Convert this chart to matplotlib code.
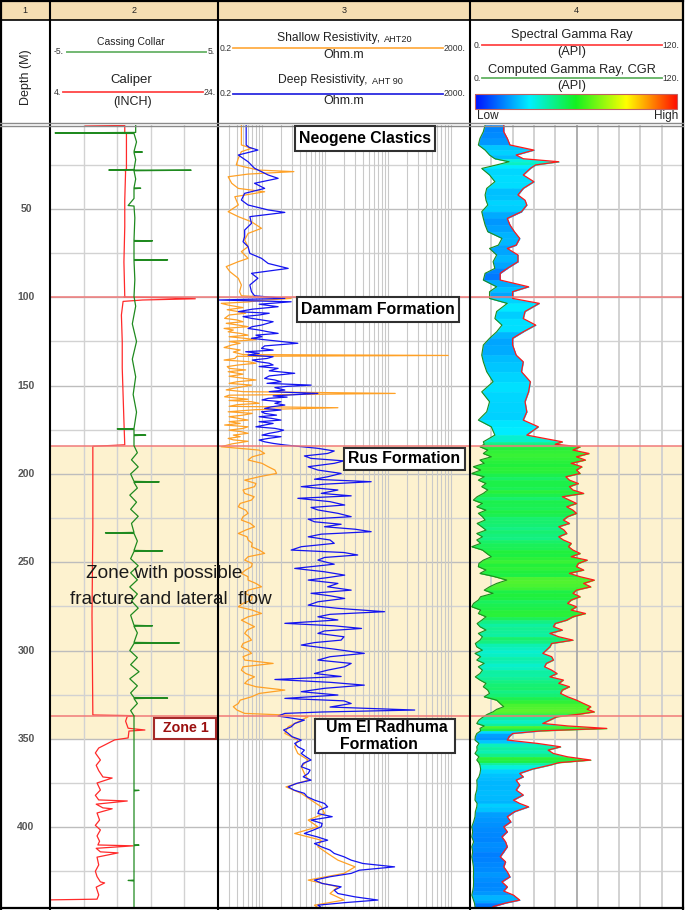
import numpy as np
import matplotlib
matplotlib.use("Agg")
import matplotlib.pyplot as plt
from matplotlib.colors import LinearSegmentedColormap
from matplotlib.patches import Rectangle

plt.rcParams['font.family'] = ['Liberation Sans', 'DejaVu Sans']

# ---------------- data (depth in m) ----------------
depth_labels = [50, 100, 150, 200, 250, 300, 350, 400]
track_numbers = ['1', '2', '3', '4']
formation_tops = [100.0, 184.0, 337.0]
zone_top, zone_base = 184.0, 350.6

# Caliper (inch)
caliper_pts = [
    (2.4, 8.2), (2.7, 12.9), (6.9, 12.9), (7.2, 13.1), (27.5, 13.1), (27.9, 12.5), (28.3, 13.0),
    (45, 12.9), (60, 12.9), (80, 12.8), (99.5, 12.9), (99.8, 12.8), (100.3, 18.6), (100.8, 21.3),
    (101.5, 15.0), (102.3, 12.7), (110, 12.5), (125, 12.6), (140, 12.6), (155, 12.7), (170, 12.8),
    (183.5, 12.9), (183.9, 11.2), (184.3, 9.1), (230, 9.1), (280, 9.0), (336.5, 9.1),
    (336.9, 14.1), (337.3, 13.2), (340, 13.0), (344, 13.3), (345, 15.3), (345.6, 13.4), (349.5, 13.3),
    (350.6, 11.7), (355.2, 9.8), (358, 9.4), (362, 10.0), (365, 9.5), (368, 9.8), (371.6, 10.3),
    (372.2, 11.4), (375, 9.6), (379, 10.0), (382, 9.4), (384.6, 9.8), (385.2, 13.2), (387, 9.5),
    (389.1, 10.3), (389.6, 11.4), (392, 9.6), (396, 9.9), (399, 9.4), (401.6, 10.0), (405, 9.6),
    (408, 9.9), (410.1, 9.7), (410.6, 13.9), (412, 9.5), (414, 10.0), (414.6, 12.1), (417, 9.6),
    (421.4, 9.8), (425, 9.4), (428, 9.6), (431, 10.0), (431.6, 10.5), (434, 9.5), (438.4, 9.8),
    (440.8, 9.6), (441.2, 4.0),
]

# Casing collar locator
collar_pts = [
    (2.4, 0.1), (6.6, 0.1), (6.9, -4.7), (7.2, 0.0), (12, 0.15), (17.4, 0.0), (17.7, 0.5), (18, 0.0),
    (22, 0.1), (27.6, 0.0), (27.9, -1.5), (28.0, 3.4), (28.3, 0.0), (33, 0.1), (38, 0.0), (38.2, 0.4),
    (38.5, 0.0), (44, 0.0), (48, -0.35), (48.3, 0.0), (55, 0.05), (67.8, 0.0), (68, 1.1), (68.3, 0.0),
    (78.6, 0.0), (78.8, 2.0), (79.1, 0.0), (90, 0.05), (99.5, 0.0), (105, 0.1), (115, -0.1), (125, 0.15),
    (135, -0.1), (145, 0.1), (155, -0.05), (165, 0.15), (174.3, 0.0), (174.5, -1.0), (174.8, 0.0),
    (177.8, 0.0), (178, 0.7), (178.3, 0.0), (184, 0.0), (188, 0.2), (192, -0.15), (196, 0.25), (200, -0.2),
    (204.2, 0.0), (204.5, 1.5), (204.8, 0.0), (208, 0.2), (212, -0.25), (216, 0.15), (220, -0.2), (224, 0.25),
    (228, -0.15), (233.1, 0.0), (233.4, -1.7), (233.7, 0.0), (238, 0.2), (243.3, 0.0), (243.6, 1.7),
    (243.9, 0.0), (248, -0.2), (252, 0.25), (256, -0.2), (260, 0.2), (264, -0.25), (268, 0.2), (272, -0.15),
    (276, 0.25), (280, -0.2), (285.7, 0.0), (286, 1.1), (286.3, 0.0), (290, 0.2), (295.4, 0.0), (295.7, 2.7),
    (296, 0.0), (300, -0.25), (304, 0.2), (308, -0.2), (312, 0.3), (316, -0.25), (320, 0.2), (324, -0.2),
    (326.6, 0.0), (326.9, 2.0), (327.2, 0.0), (330, 0.2), (334, -0.2), (337, 0.0), (360, 0.0), (379, 0.0),
    (379.2, 0.3), (379.5, 0.0), (410, 0.0), (410.2, 0.3), (410.5, 0.0), (430, 0.0), (430.2, -0.35),
    (430.5, 0.0), (445, 0.0),
]

# Shallow resistivity AHT20 (ohm.m)
shallow_pts = [
    (2.4, 0.47), (13.7, 0.47), (15.6, 0.68), (17.5, 0.47), (21.3, 0.42), (25, 0.39), (27.9, 0.86),
    (28.8, 3.2), (30.2, 0.6), (31.7, 0.29), (35.4, 0.33), (38.3, 0.42), (40.2, 1.1), (43, 0.37),
    (47.7, 0.42), (51.5, 0.29), (54.3, 0.42), (57.2, 0.68), (60.9, 0.98), (63.8, 0.6), (67.5, 0.53),
    (71.3, 0.6), (74.1, 0.47), (77.9, 0.6), (79.8, 0.42), (82.6, 0.27), (85.5, 0.31), (89.2, 0.42),
    (93, 0.47), (96.8, 0.44), (99.1, 0.47), (100.6, 2.9), (101.8, 0.9), (103.4, 0.225), (105.8, 0.5),
    (108.1, 0.42), (110, 0.3), (111.9, 0.255), (113.8, 0.5), (115.7, 0.42), (117.6, 0.25), (119.5, 0.29),
    (121.4, 0.6), (123.2, 0.53), (125, 0.3), (127, 0.33), (129.8, 0.45), (132.4, 0.5), (132.9, 900),
    (133.4, 0.4), (134.6, 0.37), (136.4, 0.6), (138.3, 0.42), (140.2, 0.3), (142.1, 0.29), (143.5, 0.5),
    (145.9, 0.53), (147.8, 0.4), (149.7, 0.68), (151.5, 0.35), (153.4, 0.5), (154.4, 130), (155.4, 0.3),
    (156.3, 0.255), (157.7, 0.6), (159.1, 0.68), (160.8, 0.4), (162.5, 16), (163.6, 0.8), (164.8, 0.29),
    (166.7, 0.5), (168.5, 0.42), (170.4, 0.3), (172.3, 0.255), (174.2, 0.5), (176.1, 0.47), (178, 0.35),
    (179.9, 0.29), (181.5, 0.6), (183.0, 0.33), (184.6, 0.225),
    (102.6, 0.6), (104.5, 0.3), (107, 0.28), (109, 0.55), (112.8, 0.4), (114.7, 0.27), (116.6, 0.6),
    (118.5, 0.35), (120.4, 0.45), (122.3, 0.3), (124, 0.8), (126, 0.45), (128.4, 0.25), (131, 0.35),
    (135.5, 0.25), (137.3, 0.8), (139.2, 0.28), (141.1, 0.55), (144.7, 0.3), (146.8, 0.8), (148.7, 0.3),
    (150.6, 0.5), (152.4, 0.27), (158.4, 0.3), (160, 0.9), (161.7, 0.3), (165.7, 0.7), (167.6, 0.3),
    (169.5, 0.6), (171.4, 0.45), (173.3, 0.6), (175.2, 0.3), (177, 0.6), (178.9, 0.45), (180.7, 0.35),
    (182.2, 0.45),
    (186.5, 0.9), (188.4, 1.1), (190.3, 0.7), (192.1, 0.6), (194.0, 1.0), (195.9, 1.25), (197.8, 1.6),
    (199.7, 1.7), (201.6, 0.9), (203.5, 0.53), (205.4, 0.8), (207.2, 0.76), (209.1, 0.5), (211, 0.53),
    (212.9, 0.75), (214.8, 0.68), (216.7, 0.45), (218.6, 0.42), (220.5, 0.55), (222.3, 0.6), (224.2, 0.5),
    (226.1, 0.47), (228, 0.65), (229.9, 0.76), (231.8, 0.55), (233.7, 0.42), (235.6, 0.58), (237.4, 0.6),
    (239.3, 0.7), (241.2, 0.68), (243.1, 0.9), (245, 1.1), (246.9, 0.6), (248.8, 0.53), (250.7, 0.7),
    (252.5, 0.68), (254.4, 0.55), (256.3, 0.47), (258.2, 0.6), (260.1, 0.6), (262, 0.8), (263.9, 0.98),
    (265.8, 0.6), (267.6, 0.53), (269.5, 0.7), (271.4, 0.68), (273.3, 0.5), (275.2, 0.42), (277.1, 0.7),
    (279, 0.98), (280.9, 0.6), (282.8, 0.47), (284.7, 0.6), (286.5, 0.76), (288.4, 0.58), (290.3, 0.53),
    (292.2, 0.62), (294.1, 0.68), (296, 0.5), (297.9, 0.47), (299.8, 0.6), (301.6, 0.68), (303.5, 0.5),
    (305.4, 0.53), (307.3, 1.5), (309.2, 0.5), (311.1, 0.47), (313, 0.55), (314.9, 0.76), (316.7, 0.6),
    (318.6, 0.53), (320.5, 0.8), (322.4, 2.3), (324.3, 0.9), (326.2, 0.68), (328.1, 0.45), (330, 0.42),
    (331.8, 0.35), (333.7, 0.4), (335.6, 0.53), (336.5, 2.3),
    (337.5, 5.4), (339.4, 4.2), (343.2, 2.6), (346.9, 2.3), (350.7, 3.7), (354.5, 3.3), (358.3, 3.7),
    (362, 5.4), (365.8, 4.2), (369.6, 4.7), (373.4, 5.4), (377.2, 2.4), (380.9, 4.2), (384.7, 6.0),
    (388.5, 8.7), (392.3, 9.8), (396, 5.4), (399.8, 7.7), (403.6, 3.3), (407.4, 8.7), (411.1, 7.7),
    (414.9, 11), (418.7, 16), (422.5, 30), (426.2, 20), (430, 5.4), (433.8, 16), (437.6, 12),
    (441.3, 20), (444.2, 6.8), (445.5, 7.7),
]

# Deep resistivity AHT90 (ohm.m)
deep_upper_pts = [
    (2.4, 0.56), (13.7, 0.56), (15.0, 0.62), (16.6, 0.86), (19.4, 0.42), (23.2, 0.6), (26.9, 0.76),
    (30.7, 1.25), (32.6, 1.8), (35.4, 0.76), (38.3, 1.1), (41.1, 0.53), (44.9, 0.47), (47.7, 0.6),
    (50.5, 1.25), (51.9, 2.3), (54.3, 0.64), (58.1, 0.68), (61.9, 0.53), (65.6, 0.53), (68.5, 0.5),
    (71.3, 0.6), (75.1, 0.64), (77.9, 0.98), (80.8, 1.25), (83.6, 2.6), (86.4, 0.68), (89.2, 0.86),
    (93, 0.64), (96.8, 0.68), (99.1, 0.76), (100.6, 2.3), (101.5, 0.2), (102.5, 2.9), (105.3, 1.8),
    (108.1, 0.42), (110, 0.9), (111.9, 0.68), (115.7, 0.98), (117.6, 0.6), (119.5, 1.25), (121.4, 0.8),
    (123.2, 0.68), (126, 3.7), (127.5, 1.1), (128.9, 0.98), (130.8, 0.55), (132.7, 0.6), (134.6, 1.2),
    (136.4, 0.86), (138.3, 1.5), (140.2, 1.8), (143, 3.3), (144.5, 1.3), (145.9, 1.1), (147.8, 2.0),
    (149.7, 6.0), (151.1, 1.6), (152.5, 2.3), (154.4, 7.7), (155.8, 1.5), (157.2, 1.25), (159.1, 2.0),
    (161, 2.3), (162.9, 1.1), (164.8, 0.98), (166.7, 1.7), (168.5, 1.4), (170.4, 0.9), (172.3, 1.1),
    (174.2, 1.6), (176.1, 1.8), (178, 1.0), (179.9, 1.25), (181.8, 1.1), (183.6, 2.3),
    (103.9, 0.9), (106.7, 0.7), (109, 1.3), (110.9, 0.5), (113.8, 1.5), (116.6, 0.7), (118.5, 0.9),
    (120.4, 1.8), (122.3, 1.0), (124.6, 1.6), (129.9, 1.5), (131.7, 0.9), (133.6, 1.5), (135.5, 0.7),
    (137.3, 1.3), (139.2, 0.9), (141.6, 1.3), (146.8, 1.6), (148.7, 1.2), (150.4, 2.5), (153.4, 1.3),
    (156.5, 2.5), (158.1, 1.0), (160, 1.6), (162, 1.4), (163.8, 2.0), (165.7, 1.1), (167.6, 0.9),
    (169.5, 2.0), (171.4, 1.5), (173.3, 0.8), (175.2, 2.2), (177, 1.3), (178.9, 2.0), (180.8, 0.9),
    (182.7, 1.5),
]
deep_rus_pts = [
    (185.5, 7.7), (187.0, 14), (188.4, 11), (189.8, 4.7), (191.2, 6.0), (192.6, 20), (194.0, 14),
    (195.9, 5.4), (197.8, 7.7), (199.7, 18), (201.6, 11), (203.0, 6.8), (204.4, 54), (205.8, 9.8),
    (207.2, 4.2), (209.1, 16), (211.0, 8.7), (212.4, 26), (213.8, 3.7), (215.7, 12), (217.6, 20.5),
    (219.0, 6.0), (220.4, 7.7), (222.3, 16), (224.2, 26), (225.6, 5.4), (227.1, 6.8), (228.5, 18),
    (229.9, 9.8), (231.3, 30), (232.7, 54), (234.1, 8.7), (235.6, 5.4), (237.4, 12), (239.3, 14),
    (241.2, 4.2), (243.1, 2.9), (244.5, 20), (245.9, 33), (247.3, 9.8), (248.8, 7.7), (251.1, 14),
    (253.5, 3.3), (255.4, 9.8), (257.3, 20.5), (258.7, 11), (260.1, 5.4), (262.0, 16), (263.9, 11),
    (265.8, 26), (267.6, 6.0), (269.0, 12), (270.5, 20.5), (272.4, 7.7), (274.3, 5.4), (276.1, 16),
    (278.0, 88), (279.5, 12), (280.9, 7.7), (282.7, 16), (284.6, 2.3), (286.0, 14), (287.5, 38),
    (288.9, 9.8), (290.3, 7.7), (292.2, 20), (294.1, 18), (295.5, 6.8), (296.9, 4.2), (299.2, 14),
    (301.6, 42), (303.5, 12), (305.4, 7.7), (307.3, 26), (309.2, 20.5), (311.1, 11), (313.0, 6.8),
    (314.7, 18), (316.4, 1.6), (318.0, 12), (319.6, 42), (321.4, 9.8), (323.3, 4.2), (325.2, 16),
    (327.1, 2.3), (328.5, 20), (330.0, 26), (332.0, 12), (333.7, 265), (334.8, 9), (335.6, 2.3),
]
deep_lower_pts = [
    (337.1, 1.8), (339.4, 4.7), (341.3, 3.3), (343.2, 2.9), (345, 2.2), (346.9, 2.6), (348.8, 3.0),
    (350.7, 4.2), (352.6, 3.3), (354.5, 3.7), (356.4, 4.7), (358.3, 4.2), (360.2, 5.0), (362, 6.0),
    (363.9, 4.5), (365.8, 4.2), (367.7, 5.8), (369.6, 5.4), (371.5, 4.5), (373.4, 6.0), (375.3, 3.5),
    (377.2, 2.6), (379, 3.2), (380.9, 4.7), (382.8, 5.2), (384.7, 6.8), (386.6, 9.8), (388.5, 11),
    (390.4, 8.0), (392.3, 7.7), (394.1, 13), (396, 6.0), (397.9, 9.0), (399.8, 8.7), (401.7, 6.5),
    (403.6, 4.7), (405.5, 7.5), (407.4, 11), (409.3, 6.8), (411.1, 8.7), (413, 12), (414.9, 14),
    (416.8, 20), (418.7, 26), (420.6, 40), (422.5, 127), (424.4, 35), (426.2, 26), (428.1, 12),
    (430, 6.8), (431.9, 9), (433.8, 18), (435.7, 14), (437.6, 16), (439.5, 30), (441.3, 69),
    (442.8, 20), (444.2, 7.7), (445.5, 8.7),
]

# Gamma ray: (depth, CGR, SGR) in API
gr_upper_pts = [
    (2.4, 8.5, 19), (6.2, 7.5, 19), (10, 5.6, 21), (13.7, 4.7, 22.5), (16.6, 8.5, 36), (19.4, 11, 26),
    (21.5, 14, 30), (23.2, 22, 50), (25, 15, 37), (27, 6.6, 34), (30.7, 11, 30), (34.5, 14, 36),
    (38.3, 9.4, 30), (42, 8.5, 27), (45, 9, 31), (47.7, 10, 32), (51.5, 6.6, 29), (55.3, 7.5, 21),
    (59, 8.5, 22.5), (62.8, 10, 25), (66.6, 18, 28), (70.4, 16, 26), (72.3, 11, 21), (76, 15, 27),
    (79.8, 13, 27), (83.6, 14, 21), (86.4, 8.5, 17), (90.2, 7.5, 17), (94, 15, 33), (96.8, 11, 24),
    (100.6, 11, 24), (103.4, 21, 39), (108, 15, 31), (112, 14, 30), (115.7, 18, 37), (119.5, 15, 30),
    (123.2, 11, 24), (127, 7.5, 24), (132.7, 6.6, 26), (136.5, 7.5, 30), (142.1, 9.4, 29),
    (147.8, 13, 34), (153.5, 6.6, 33), (159.1, 11, 31), (164.8, 9.4, 32), (169.5, 4.7, 30),
    (173.3, 12, 38.5), (178, 14, 32), (181.8, 7.5, 52), (183.2, 8, 48),
]
gr_rus_pts = [
    (184.6, 5.6, 62), (186.5, 10, 58), (188.4, 7.5, 67), (190.3, 12, 60), (192.1, 5.6, 65),
    (194, 8, 57), (195.9, 1.9, 63), (197.8, 6, 60), (199.7, 1, 62), (201.6, 8, 54),
    (203.5, 4.7, 56), (205.4, 9, 61), (207.2, 6.6, 56), (209.1, 10, 58), (211, 7.5, 64),
    (212.9, 4, 52), (214.8, 1.9, 56), (216.7, 7, 60), (218.6, 3.8, 54.5), (220.5, 9, 58),
    (222.3, 4.7, 60), (224.2, 7, 55), (226.1, 8.5, 52.6), (228, 4, 56), (229.9, 6.6, 50),
    (231.8, 9, 53), (233.7, 3.8, 54.5), (235.6, 7, 50), (237.4, 3.8, 52.6), (239.3, 6, 57),
    (241.2, 1, 55.5), (243.1, 7, 58), (245, 9.4, 62), (246.9, 12, 57), (248.8, 7.5, 66),
    (250.7, 5, 61), (252.5, 4.7, 60), (254.4, 9, 64), (256.3, 5.6, 56), (258.2, 14, 62),
    (260.1, 20.7, 70), (262, 15, 64), (263.9, 11, 68), (265.8, 8, 60), (267.6, 13, 58),
    (269.5, 6, 62), (271.4, 4.7, 57), (273.3, 2, 55), (275.2, 1, 60), (277.1, 6, 57),
    (279, 4.7, 65), (280.9, 9, 58), (282.8, 6.6, 54.5), (284.7, 4, 48), (286.5, 5.6, 47),
    (288.4, 9, 52), (290.3, 4.7, 45), (292.2, 7, 50), (294.1, 5.6, 58), (296, 3, 46),
    (297.9, 3.8, 45), (299.8, 7, 43), (301.6, 2.8, 41), (303.5, 6, 46), (305.4, 3.8, 47),
    (307.3, 8, 43), (309.2, 4.7, 42), (311.1, 7, 46), (313, 5.6, 49), (314.9, 3, 45),
    (316.7, 5.6, 52.6), (318.6, 9, 50), (320.5, 7.5, 56), (322.4, 10, 52), (324.3, 11, 51),
    (326.2, 8, 55), (328.1, 15, 60), (330, 17, 64), (331.8, 19, 68), (333.3, 15, 66),
    (334.7, 13, 70), (336, 10, 62),
]
gr_lower_pts = [
    (337.5, 7.5, 49), (339.4, 5, 45), (341.3, 3.8, 41), (342.7, 8, 55), (344.1, 5.6, 77),
    (345.5, 6, 40), (347, 3.8, 24), (348.8, 3, 22), (350.7, 2.8, 21), (352.6, 5, 38),
    (354.5, 3.8, 51), (356.4, 4, 44), (358.3, 2.8, 47), (360.2, 5, 55), (362, 3.8, 68),
    (363.5, 5, 50), (364.9, 5.6, 45), (367.2, 6, 35), (369.6, 5.6, 28), (371.5, 5, 30),
    (373.4, 3.8, 26), (376.2, 4, 28), (379, 3.8, 26), (381.8, 3, 30), (384.7, 2.8, 24.5),
    (386.6, 4, 28), (388.5, 3.8, 33), (391.3, 3, 25), (394.1, 2.8, 21), (397, 2, 23),
    (399.8, 1, 19), (402.6, 1.5, 21), (405.5, 1, 18), (408.3, 2, 20), (411.1, 1, 21),
    (414, 1.5, 19), (416.8, 1, 17), (419.6, 1.5, 20), (422.5, 1.9, 19), (425.3, 2, 21),
    (428.1, 1.9, 22.5), (431, 2, 18), (433.8, 1.9, 21), (436.2, 1.5, 19), (438.5, 1, 24.5),
    (441.3, 1.9, 28), (443, 2.5, 20), (445, 2.8, 13),
]

# ---------------- figure geometry (pixels) ----------------
W, H = 685, 910
Y_TOP, Y_BOT = 125, 908
D_TOP, D_BOT = 2.4, 445.8
T1, T2, T3, T4, T5 = 0, 50, 218, 470, 683

fig = plt.figure(figsize=(W / 100, H / 100), dpi=100)


def rect(x0, y0, x1, y1):
    return [x0 / W, 1 - y1 / H, (x1 - x0) / W, (y1 - y0) / H]


def data_ax(x0, x1):
    ax = fig.add_axes(rect(x0, Y_TOP, x1, Y_BOT))
    ax.set_ylim(D_BOT, D_TOP)
    ax.axis('off')
    return ax


def by_depth(pts):
    a = np.array(pts, dtype=float)
    return a[np.argsort(a[:, 0], kind='stable')]


YELLOW = '#fdf2cf'
GRID = '#d2d2d2'
GRID50 = '#bdbdbd'
FORM = '#f07a7a'

cal = by_depth(caliper_pts)
col = by_depth(collar_pts)
sh = by_depth(shallow_pts)
dp = by_depth(deep_upper_pts + deep_rus_pts + deep_lower_pts)
gr = by_depth(gr_upper_pts + gr_rus_pts + gr_lower_pts)

# ---- track 1 : depth
ax1 = data_ax(T1, T2)
ax1.set_xlim(0, 1)
for d in depth_labels:
    ax1.text(0.52, d, str(d), ha='center', va='center', fontsize=7.5,
             fontweight='bold', color='#555555')


def common(ax):
    ax.axhspan(zone_top, zone_base, color=YELLOW, zorder=0, lw=0)
    for d in range(25, 450, 25):
        ax.axhline(d, color=GRID50 if d % 50 == 0 else GRID, lw=1.0, zorder=1)
    for d in formation_tops:
        ax.axhline(d, color=FORM, lw=1.1, zorder=6)


# ---- track 2 : caliper / collar
ax2 = data_ax(T2, T3)
ax2.set_xlim(4, 24)
common(ax2)
for v in [8, 12, 16, 20]:
    ax2.axvline(v, color=GRID, lw=1.0, zorder=1)
ax2.plot(cal[:, 1], cal[:, 0], color='#ff2a2a', lw=0.9, zorder=4)
ax2c = data_ax(T2, T3)
ax2c.set_xlim(-5, 5)
ax2c.plot(col[:, 1], col[:, 0], color='#1f8a1f', lw=0.9, zorder=4)

# ---- track 3 : resistivity
ax3 = data_ax(T3, T4)
ax3.set_xscale('log')
ax3.set_xlim(0.2, 2000)
common(ax3)
for e in range(-1, 4):
    for m in range(1, 10):
        v = m * 10.0 ** e
        if 0.2 < v < 2000:
            ax3.axvline(v, color='#c9c9c9', lw=0.8, zorder=1)
ax3.plot(sh[:, 1], sh[:, 0], color='#ffa126', lw=0.9, zorder=3)
ax3.plot(dp[:, 1], dp[:, 0], color='#1414f0', lw=0.9, zorder=4)

# ---- track 4 : gamma ray
ax4 = data_ax(T4, T5)
ax4.set_xlim(0, 120)
common(ax4)
for v in range(12, 120, 12):
    ax4.axvline(v, color='#a9a9a9' if v == 60 else '#cfcfcf', lw=1.3, zorder=1)
cmap = LinearSegmentedColormap.from_list(
    'grmap', [(0, '#0010ff'), (0.3, '#00f0ff'), (0.5, '#1ef03c'), (0.75, '#ffff00'), (1, '#ff1000')])
for i in range(len(gr) - 1):
    c = cmap(float(np.clip(0.5 * (gr[i, 2] + gr[i + 1, 2]) / 120.0, 0, 1)))
    ax4.fill_betweenx(gr[i:i + 2, 0], gr[i:i + 2, 1], gr[i:i + 2, 2],
                      facecolor=c, edgecolor=c, lw=0.4, zorder=2)
ax4.plot(gr[:, 2], gr[:, 0], color='#ff1a1a', lw=0.9, zorder=4)
ax4.plot(gr[:, 1], gr[:, 0], color='#1e8c1e', lw=0.8, zorder=4)

# ---------------- overlay : header, borders, labels ----------------
ov = fig.add_axes([0, 0, 1, 1], zorder=10)
ov.set_xlim(0, W)
ov.set_ylim(H, 0)
ov.axis('off')

# header row
ov.add_patch(Rectangle((0, 0), T5, 20, facecolor='#f5deb3', edgecolor='none'))
for (a, b), s in zip([(T1, T2), (T2, T3), (T3, T4), (T4, T5)], track_numbers):
    ov.text((a + b) / 2, 10.5, s, ha='center', va='center', fontsize=6.5, color='#222222')

# borders
ov.plot([0.8, 0.8], [0, 908.5], color='black', lw=1.6)
ov.plot([T5 + 0.5, T5 + 0.5], [0, 908.5], color='black', lw=1.6)
ov.plot([0, T5 + 0.5], [0.8, 0.8], color='black', lw=1.6)
ov.plot([0, T5 + 0.5], [908.3, 908.3], color='black', lw=1.6)
ov.plot([0, T5], [20, 20], color='black', lw=1.2)
for x in [T2, T3, T4]:
    ov.plot([x, x], [0, 908.5], color='black', lw=1.5)
ov.plot([0, T5], [122.5, 122.5], color='#8a8a8a', lw=1.0)
ov.plot([0, T5], [125.5, 125.5], color='#8a8a8a', lw=1.0)

# track 1 header
ov.text(26.5, 77, 'Depth (M)', rotation=90, ha='center', va='center', fontsize=9, color='#222222')

# track 2 header
ov.text(131, 42, 'Cassing Collar', ha='center', va='center', fontsize=7.5, color='#222222')
ov.plot([67, 206], [52, 52], color='#72b872', lw=1.4)
ov.text(59, 52, '-5.', ha='center', va='center', fontsize=6.2, color='#333333')
ov.text(211, 52, '5.', ha='center', va='center', fontsize=6.2, color='#333333')
ov.text(131, 80, 'Caliper', ha='center', va='center', fontsize=9.5, color='#222222')
ov.plot([63, 203], [92.3, 92.3], color='#ff4545', lw=1.3)
ov.text(57, 92.3, '4.', ha='center', va='center', fontsize=6.2, color='#333333')
ov.text(209.5, 92.3, '24.', ha='center', va='center', fontsize=6.2, color='#333333')
ov.text(132.5, 101.5, '(INCH)', ha='center', va='center', fontsize=9, color='#222222')

# track 3 header
ov.text(380, 38.5, 'Shallow Resistivity,', ha='right', va='center', fontsize=8.7, color='#222222')
ov.text(384, 39.5, 'AHT20', ha='left', va='center', fontsize=6.6, color='#222222')
ov.plot([233, 443], [48.3, 48.3], color='#ffae45', lw=1.3)
ov.text(225.5, 48.3, '0.2', ha='center', va='center', fontsize=6.2, color='#333333')
ov.text(454.5, 48.3, '2000.', ha='center', va='center', fontsize=6.2, color='#333333')
ov.text(344, 55.5, 'Ohm.m', ha='center', va='center', fontsize=9, color='#222222')
ov.text(368, 80, 'Deep Resistivity,', ha='right', va='center', fontsize=8.7, color='#222222')
ov.text(372, 81, 'AHT 90', ha='left', va='center', fontsize=6.6, color='#222222')
ov.plot([233, 443], [94, 94], color='#2b2be0', lw=1.3)
ov.text(225.5, 94, '0.2', ha='center', va='center', fontsize=6.2, color='#333333')
ov.text(454.5, 94, '2000.', ha='center', va='center', fontsize=6.2, color='#333333')
ov.text(344, 101.5, 'Ohm.m', ha='center', va='center', fontsize=9, color='#222222')

# track 4 header
ov.text(571.5, 35, 'Spectral Gamma Ray', ha='center', va='center', fontsize=9.2, color='#222222')
ov.plot([482, 662], [45, 45], color='#ff4545', lw=1.3)
ov.text(477, 45, '0.', ha='center', va='center', fontsize=6.2, color='#333333')
ov.text(671, 45, '120.', ha='center', va='center', fontsize=6.2, color='#333333')
ov.text(571.5, 52.5, '(API)', ha='center', va='center', fontsize=9.2, color='#222222')
ov.text(571.5, 70, 'Computed Gamma Ray, CGR', ha='center', va='center', fontsize=9.2, color='#222222')
ov.plot([482, 662], [78.3, 78.3], color='#62b262', lw=1.3)
ov.text(477, 78.3, '0.', ha='center', va='center', fontsize=6.2, color='#333333')
ov.text(671, 78.3, '120.', ha='center', va='center', fontsize=6.2, color='#333333')
ov.text(571.5, 85.5, '(API)', ha='center', va='center', fontsize=9.2, color='#222222')
cbar_cmap = LinearSegmentedColormap.from_list(
    'cbar', [(0, '#0010ff'), (0.27, '#00f0ff'), (0.5, '#14f020'), (0.75, '#ffff00'), (1, '#ff1000')])
grad = np.linspace(0, 1, 256).reshape(1, -1)
ov.imshow(grad, cmap=cbar_cmap, extent=(475, 677, 109, 94), aspect='auto', zorder=2)
ov.add_patch(Rectangle((475, 94), 202, 15, facecolor='none', edgecolor='#c06060', lw=0.8, zorder=3))
ov.text(477, 116, 'Low', ha='left', va='center', fontsize=8.5, color='#222222')
ov.text(678, 116, 'High', ha='right', va='center', fontsize=8.5, color='#222222')
ov.set_xlim(0, W)
ov.set_ylim(H, 0)


# formation label boxes
def label_box(x0, y0, x1, y1, lines, fs=11.4, color='black', edge='#303030'):
    ov.add_patch(Rectangle((x0, y0), x1 - x0, y1 - y0, facecolor='white',
                           edgecolor=edge, lw=1.5, zorder=20))
    n = len(lines)
    for k, (tx, s) in enumerate(lines):
        yy = (y0 + y1) / 2 + (k - (n - 1) / 2) * 17.5
        ov.text(tx, yy, s, ha='center', va='center', fontsize=fs, fontweight='bold',
                color=color, zorder=21)


label_box(295, 126, 435, 151, [(365, 'Neogene Clastics')])
label_box(297, 297, 459, 322, [(378, 'Dammam Formation')])
label_box(344, 447.5, 465, 470, [(404.5, 'Rus Formation')])
label_box(315, 718.5, 455, 753, [(387, 'Um El Radhuma'), (379, 'Formation')])
label_box(154, 718, 216.5, 739, [(185.5, 'Zone 1')], fs=10.3, color='#9b1010', edge='#a52a2a')

ov.text(164, 573, 'Zone with possible', ha='center', va='center', fontsize=13.7,
        color='#1a1a1a', zorder=22)
ov.text(171, 600, 'fracture and lateral  flow', ha='center', va='center', fontsize=13.7,
        color='#1a1a1a', zorder=22)

fig.savefig('out.png', dpi=100)
